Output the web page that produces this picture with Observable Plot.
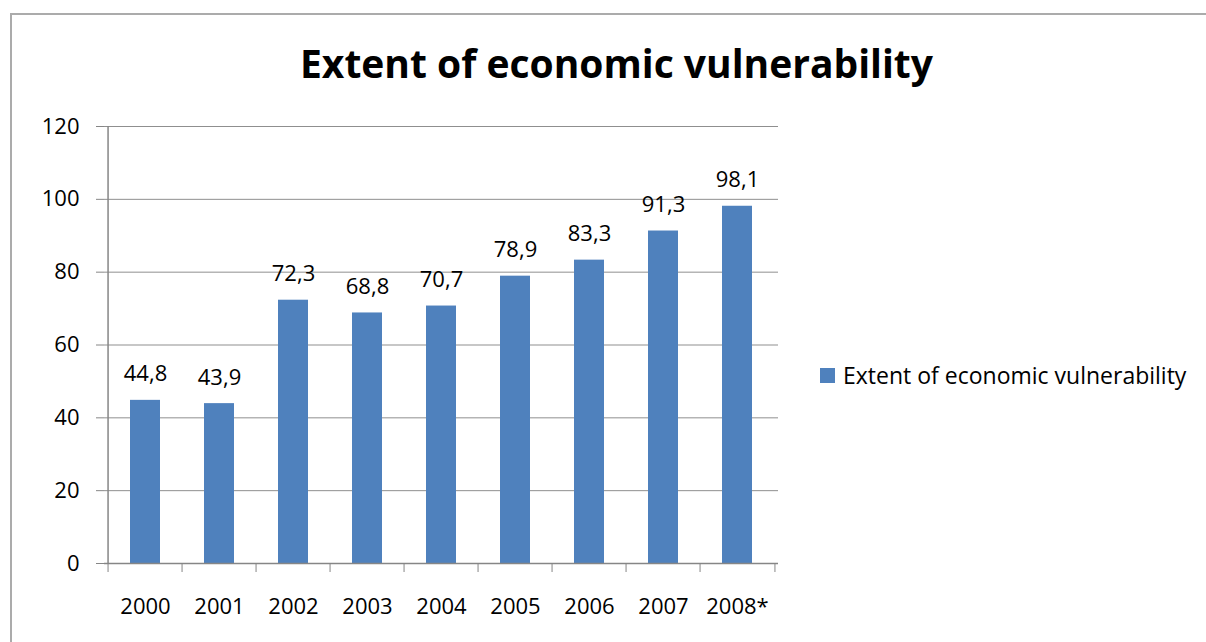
<!DOCTYPE html>
<html>
<head>
<meta charset="utf-8">
<script src="https://cdn.jsdelivr.net/npm/d3@7"></script>
<script src="https://cdn.jsdelivr.net/npm/@observablehq/plot@0.6"></script>
<style>
  html, body { margin: 0; padding: 0; background: #fff; }
  #chart { position: relative; width: 1206px; height: 642px; overflow: hidden; font-family: "Open Sans", sans-serif; }
  #frame { position: absolute; left: 10px; top: 13px; width: 1300px; height: 800px; border: 2px solid #ababab; box-sizing: border-box; }
  #title { position: absolute; left: 0; width: 1233px; top: 38px; text-align: center; font-weight: 700; font-size: 39px; line-height: 50px; color: #000; }
  #legend { position: absolute; left: 820px; top: 359px; display: flex; align-items: center; font-size: 23px; color: #000; white-space: nowrap; }
  #legend .swatch { width: 15px; height: 15px; background: #4f81bd; margin-right: 8px; }
  #plot { position: absolute; left: 0; top: 0; }
</style>
</head>
<body>
<div id="chart">
  <div id="frame"></div>
  <div id="plot"></div>
  <div id="title"></div>
  <div id="legend"><div class="swatch"></div><span id="legend-label"></span></div>
</div>
<script>
// Yearly values of the vulnerability index
const title = "Extent of economic vulnerability";
const seriesName = "Extent of economic vulnerability";
const years = ["2000", "2001", "2002", "2003", "2004", "2005", "2006", "2007", "2008*"];
const values = [44.8, 43.9, 72.3, 68.8, 70.7, 78.9, 83.3, 91.3, 98.1];
const yTicks = [0, 20, 40, 60, 80, 100, 120];

const data = years.map((year, i) => ({year, value: values[i]}));
const fmt = v => v.toFixed(1).replace(".", ",");

const W = 1206, H = 642;
const mLeft = 104, mRight = W - 778, mTop = 126, mBottom = H - 563;
const step = (W - mLeft - mRight) / years.length;

const axisColor = "#868686";
const gridColor = "#8f8f8f";
const barColor = "#4f81bd";

document.getElementById("title").textContent = title;
document.getElementById("legend-label").textContent = seriesName;

const plot = Plot.plot({
  width: W,
  height: H,
  marginLeft: mLeft,
  marginRight: mRight,
  marginTop: mTop,
  marginBottom: mBottom,
  style: {fontFamily: "Open Sans, sans-serif", fontSize: "22px", color: "#000", background: "transparent"},
  x: {type: "band", domain: years, paddingInner: 0.6, paddingOuter: 0.3},
  y: {domain: [0, 120]},
  marks: [
    Plot.gridY(yTicks, {stroke: gridColor, strokeOpacity: 1}),
    Plot.barY(data, {x: "year", y: "value", fill: barColor}),
    Plot.ruleY([0], {stroke: axisColor, strokeWidth: 1.5}),
    Plot.ruleX([years[0]], {dx: -step / 2, stroke: axisColor, strokeWidth: 1.5}),
    Plot.axisY(yTicks, {tickSize: 8, tickPadding: 17, stroke: axisColor, fill: "#000", fontSize: 22, tickFormat: d => String(d), label: null}),
    // category separators below the baseline
    Plot.axisX(years, {tickSize: 9, dx: -step / 2, stroke: axisColor, tickFormat: () => "", label: null}),
    Plot.axisX([years[years.length - 1]], {tickSize: 9, dx: step / 2, stroke: axisColor, tickFormat: () => "", label: null}),
    // category labels
    Plot.axisX(years, {tickSize: 0, tickPadding: 35, fill: "#000", fontSize: 22, label: null}),
    // value labels above bars
    Plot.text(data, {x: "year", y: "value", text: d => fmt(d.value), dy: -26, fill: "#000", fontSize: 22})
  ]
});
document.getElementById("plot").appendChild(plot);
</script>
</body>
</html>
